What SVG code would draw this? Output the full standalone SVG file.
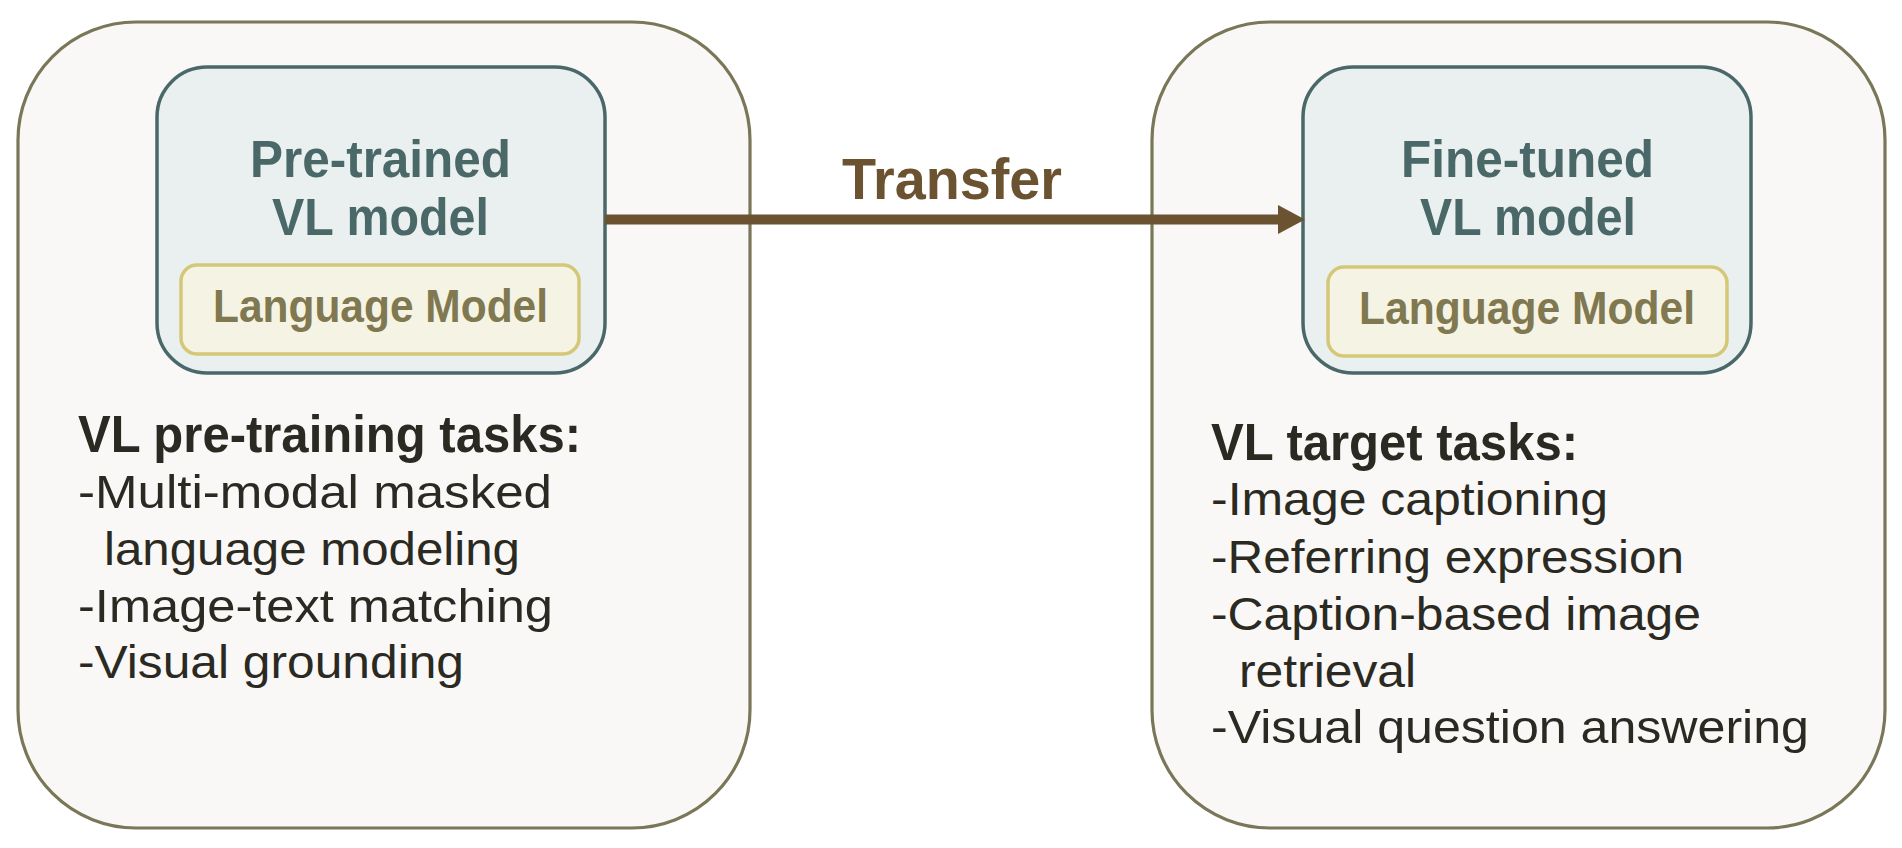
<svg xmlns="http://www.w3.org/2000/svg" width="1902" height="848" viewBox="0 0 1902 848">
<style>
.outer{fill:#f9f8f6;stroke:#7a7758;stroke-width:3.2}
.inner{fill:#eaf0f0;stroke:#4a6869;stroke-width:3.5}
.lm{fill:#f5f3e3;stroke:#d4c878;stroke-width:3.5}
.t{font-family:"Liberation Sans",Arial,sans-serif}
.title{font-weight:bold;font-size:51px;fill:#4b6868;text-anchor:middle}
.lmt{font-weight:bold;font-size:46px;fill:#7f7850;text-anchor:middle}
.head{font-weight:bold;font-size:52px;fill:#2b2a22}
.item{font-size:46px;fill:#2b2a22}
.edge{stroke:#6b5230;stroke-width:10;fill:none}
</style>
<rect width="1902" height="848" fill="#ffffff"/>
<g id="left-panel">
<rect class="outer" x="18" y="22" width="732" height="806" rx="118"/>
<text class="t head" x="78" y="452" textLength="503" lengthAdjust="spacingAndGlyphs">VL pre-training tasks:</text>
<text class="t item" x="78" y="508" textLength="474" lengthAdjust="spacingAndGlyphs">-Multi-modal masked</text>
<text class="t item" x="104" y="565" textLength="416" lengthAdjust="spacingAndGlyphs">language modeling</text>
<text class="t item" x="78" y="622" textLength="475" lengthAdjust="spacingAndGlyphs">-Image-text matching</text>
<text class="t item" x="78" y="678" textLength="386" lengthAdjust="spacingAndGlyphs">-Visual grounding</text>
</g>
<g id="right-panel">
<rect class="outer" x="1152" y="22" width="733" height="806" rx="118"/>
<text class="t head" x="1211" y="460" textLength="367" lengthAdjust="spacingAndGlyphs">VL target tasks:</text>
<text class="t item" x="1211" y="515" textLength="397" lengthAdjust="spacingAndGlyphs">-Image captioning</text>
<text class="t item" x="1211" y="573" textLength="473" lengthAdjust="spacingAndGlyphs">-Referring expression</text>
<text class="t item" x="1211" y="630" textLength="490" lengthAdjust="spacingAndGlyphs">-Caption-based image</text>
<text class="t item" x="1239" y="687" textLength="177" lengthAdjust="spacingAndGlyphs">retrieval</text>
<text class="t item" x="1211" y="743" textLength="598" lengthAdjust="spacingAndGlyphs">-Visual question answering</text>
</g>
<g id="pretrained-model">
<rect class="inner" x="157" y="67" width="448" height="306" rx="50"/>
<text class="t title" x="380.5" y="177" textLength="261" lengthAdjust="spacingAndGlyphs">Pre-trained</text>
<text class="t title" x="380.5" y="235" textLength="217" lengthAdjust="spacingAndGlyphs">VL model</text>
</g>
<g id="pretrained-lm">
<rect class="lm" x="181" y="265" width="398" height="89" rx="16"/>
<text class="t lmt" x="380.5" y="322" textLength="335" lengthAdjust="spacingAndGlyphs">Language Model</text>
</g>
<g id="finetuned-model">
<rect class="inner" x="1303" y="67" width="448" height="306" rx="50"/>
<text class="t title" x="1527.5" y="177" textLength="253" lengthAdjust="spacingAndGlyphs">Fine-tuned</text>
<text class="t title" x="1528" y="235" textLength="216" lengthAdjust="spacingAndGlyphs">VL model</text>
</g>
<g id="finetuned-lm">
<rect class="lm" x="1328" y="267" width="399" height="89" rx="16"/>
<text class="t lmt" x="1527" y="324" textLength="336" lengthAdjust="spacingAndGlyphs">Language Model</text>
</g>
<g id="connectors">
<line class="edge" x1="605" y1="219.5" x2="1281" y2="219.5"/>
<polygon points="1278,205 1305,219.5 1278,234" fill="#6b5230"/>
<text class="t" x="952" y="199" font-size="58" font-weight="bold" fill="#6b5230" text-anchor="middle" textLength="220" lengthAdjust="spacingAndGlyphs">Transfer</text>
</g>
</svg>
